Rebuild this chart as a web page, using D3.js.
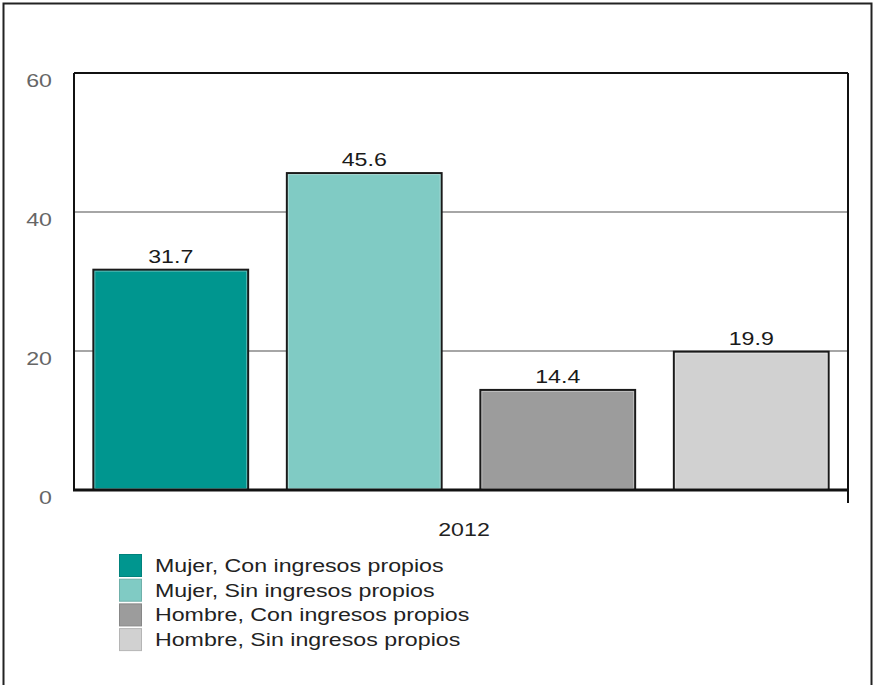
<!DOCTYPE html>
<html>
<head>
<meta charset="utf-8">
<script src="https://cdn.jsdelivr.net/npm/d3@7"></script>
<style>
  html, body { margin: 0; padding: 0; background: #fff; }
  svg { display: block; }
  text { font-family: "Liberation Sans", Arial, sans-serif; }
</style>
</head>
<body>
<svg id="chart" width="873" height="685"></svg>
<script>
// Data
const year = "2012";
const seriesNames = [
  "Mujer, Con ingresos propios",
  "Mujer, Sin ingresos propios",
  "Hombre, Con ingresos propios",
  "Hombre, Sin ingresos propios"
];
const seriesValues = [31.7, 45.6, 14.4, 19.9];
const seriesColors = ["#00968f", "#80cbc4", "#9c9c9c", "#d1d1d1"];
const yTicks = [0, 20, 40, 60];

const svg = d3.select("#chart");
const W = 873, H = 685;
const plot = { left: 74, right: 848, top: 73, bottom: 490 };
const FONT = 19, SX = 1.22;

// Text helper: glyphs drawn slightly wide
function wideText(g, x, y, str, anchor, fill) {
  return g.append("text")
    .attr("transform", `translate(${x},${y}) scale(${SX},1)`)
    .attr("text-anchor", anchor)
    .attr("font-size", FONT)
    .attr("fill", fill)
    .text(str);
}

// Outer frame
svg.append("rect")
  .attr("x", 3.5).attr("y", 3.5)
  .attr("width", 868).attr("height", 700)
  .attr("fill", "#fff").attr("stroke", "#222").attr("stroke-width", 2);

const y = d3.scaleLinear().domain([0, 60]).range([plot.bottom, plot.top]);
const x = d3.scaleBand()
  .domain(seriesNames)
  .range([plot.left, plot.right])
  .paddingInner(0.2)
  .paddingOuter(0.1);

// Gridlines
svg.append("g")
  .selectAll("line")
  .data(yTicks.filter(t => t > 0 && t < 60))
  .join("line")
  .attr("x1", plot.left).attr("x2", plot.right)
  .attr("y1", d => y(d)).attr("y2", d => y(d))
  .attr("stroke", "#a6a6a6").attr("stroke-width", 2);

// Plot frame: top, left, right (right side extends as a tick)
svg.append("line")
  .attr("x1", plot.left).attr("x2", plot.right)
  .attr("y1", plot.top).attr("y2", plot.top)
  .attr("stroke", "#111").attr("stroke-width", 2);
svg.append("line")
  .attr("x1", plot.left).attr("x2", plot.left)
  .attr("y1", plot.top).attr("y2", plot.bottom)
  .attr("stroke", "#111").attr("stroke-width", 2);
svg.append("line")
  .attr("x1", plot.right).attr("x2", plot.right)
  .attr("y1", plot.top).attr("y2", plot.bottom + 13)
  .attr("stroke", "#111").attr("stroke-width", 2);

// Y tick labels
const yAxisG = svg.append("g");
yTicks.forEach(t => {
  wideText(yAxisG, 52, y(t) + 14, String(t), "end", "#666");
});

// Bars
const bars = svg.append("g");
bars.selectAll("rect.bar")
  .data(seriesValues)
  .join("rect")
  .attr("class", "bar")
  .attr("x", (d, i) => x(seriesNames[i]))
  .attr("y", d => y(d))
  .attr("width", x.bandwidth())
  .attr("height", d => y(0) - y(d))
  .attr("fill", (d, i) => seriesColors[i])
  .attr("stroke", "#1a1a1a")
  .attr("stroke-width", 2);

// Inner highlight edge of each bar
bars.selectAll("rect.edge")
  .data(seriesValues)
  .join("rect")
  .attr("class", "edge")
  .attr("x", (d, i) => x(seriesNames[i]) + 1.5)
  .attr("y", d => y(d) + 1.5)
  .attr("width", x.bandwidth() - 3)
  .attr("height", d => y(0) - y(d) - 3)
  .attr("fill", "none")
  .attr("stroke", "#fff")
  .attr("stroke-opacity", 0.35)
  .attr("stroke-width", 1);

// Value labels
const labels = svg.append("g");
seriesValues.forEach((v, i) => {
  wideText(labels, x(seriesNames[i]) + x.bandwidth() / 2, y(v) - 7, v.toFixed(1), "middle", "#1a1a1a");
});

// Baseline
svg.append("line")
  .attr("x1", plot.left - 1).attr("x2", plot.right + 1)
  .attr("y1", y(0)).attr("y2", y(0))
  .attr("stroke", "#111").attr("stroke-width", 3);

// Category label
wideText(svg, (plot.left + plot.right) / 2 + 3, 536, year, "middle", "#222");

// Legend
const legend = svg.append("g");
seriesNames.forEach((name, i) => {
  const top = 554 + i * 24.7;
  legend.append("rect")
    .attr("x", 119.5).attr("y", top + 0.5)
    .attr("width", 22).attr("height", 22)
    .attr("fill", seriesColors[i])
    .attr("stroke", d3.color(seriesColors[i]).darker(0.4))
    .attr("stroke-width", 1);
  wideText(legend, 155, top + 18, name, "start", "#222");
});
</script>
</body>
</html>
